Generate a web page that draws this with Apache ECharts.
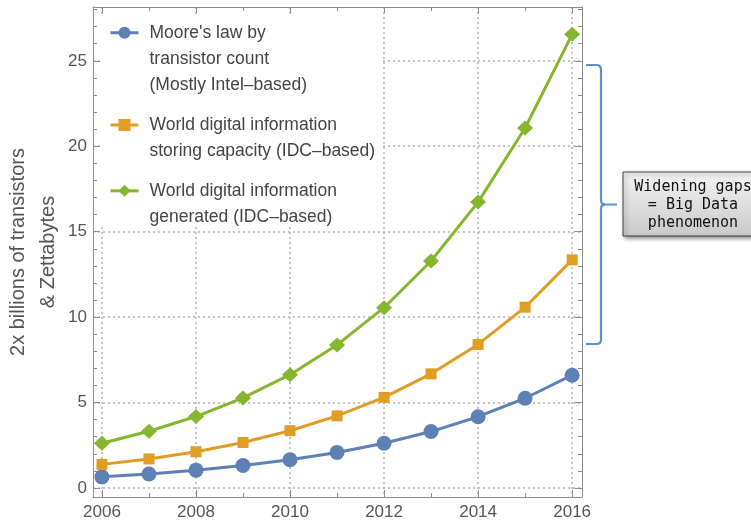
<!DOCTYPE html>
<html><head><meta charset="utf-8">
<script src="https://cdn.jsdelivr.net/npm/echarts@6/dist/echarts.min.js"></script>
<style>html,body{margin:0;padding:0;background:#fff}#c{width:751px;height:522px}</style>
</head><body><div id="c"></div>
<script>
const years = [2006, 2007, 2008, 2009, 2010, 2011, 2012, 2013, 2014, 2015, 2016];
const mooreValues = [0.65, 0.82, 1.04, 1.31, 1.65, 2.08, 2.62, 3.3, 4.17, 5.25, 6.6];
const storageValues = [1.38, 1.7, 2.12, 2.66, 3.35, 4.22, 5.3, 6.68, 8.4, 10.58, 13.35];
const generatedValues = [2.62, 3.32, 4.18, 5.27, 6.63, 8.37, 10.55, 13.28, 16.73, 21.07, 26.55];
const seriesNames = ["Moore's law", "Storing capacity", "Generated"];
const legendLabels = [
  "\n\nMoore's law by\ntransistor count\n(Mostly Intel\u2013based)",
  "\nWorld digital information\nstoring capacity (IDC\u2013based)",
  "\nWorld digital information\ngenerated (IDC\u2013based)"
];
const xMajorTicks = [2006, 2008, 2010, 2012, 2014, 2016];
const xMinorTicks = [2007, 2009, 2011, 2013, 2015];
const yMajorTicks = [0, 5, 10, 15, 20, 25];
const yMinorTicks = [0,1,2,3,4,5,6,7,8,9,10,11,12,13,14,15,16,17,18,19,20,21,22,23,24,25,26,27,28];
const yAxisTitle = "2x billions of transistors\n& Zettabytes";
const annotationText = "Widening gaps\n= Big Data\nphenomenon";

const FONT = "'Liberation Sans', Arial, Helvetica, sans-serif";
const FRAME = '#8c8c8c';
const colors = ['#5E81B5', '#E19C24', '#86B52E'];

function makeAxis(kind, pos, ticks, len, opts) {
  opts = opts || {};
  const ax = {
    type: 'value', position: pos, gridIndex: 0,
    min: kind === 'x' ? 2005.81 : -0.53,
    max: kind === 'x' ? 2016.21 : 28.15,
    axisLine: { show: !!opts.line, onZero: false, lineStyle: { color: FRAME, width: 1 } },
    axisTick: { show: true, inside: true, length: len, customValues: ticks, lineStyle: { color: FRAME, width: 1 } },
    axisLabel: opts.labels ? { customValues: opts.labels, fontSize: 17, color: '#555', margin: kind === 'x' ? 7 : 6, fontFamily: FONT,
                               formatter: function (v) { return String(v); } } : { show: false },
    splitLine: opts.split ? { show: true, lineStyle: { type: [2, 3], color: '#b3b3b3', width: 1.5 } } : { show: false },
    minorTick: { show: false }, minorSplitLine: { show: false }
  };
  if (opts.name) {
    ax.name = opts.name;
    ax.nameLocation = 'middle';
    ax.nameGap = 30;
    ax.nameMoveOverlap = false;
    ax.nameTextStyle = { fontSize: 20, color: '#555', lineHeight: 30, fontFamily: FONT };
  }
  return ax;
}

const chart = echarts.init(document.getElementById('c'), null, { renderer: 'canvas' });
const dataSets = [mooreValues, storageValues, generatedValues];
const symbols = ['circle', 'rect', 'diamond'];
const symbolSizes = [15, 11, [16, 15]];
const braceStyle = { fill: null, stroke: '#5B8FD0', lineWidth: 2.2 };

chart.setOption({
  animation: false,
  backgroundColor: '#fff',
  grid: { left: 93, top: 7, right: 169, bottom: 25, containLabel: false, outerBoundsMode: 'none' },
  xAxis: [
    makeAxis('x', 'bottom', xMajorTicks, 7, { line: true, labels: xMajorTicks, split: true }),
    makeAxis('x', 'bottom', xMinorTicks, 4, {}),
    makeAxis('x', 'top', xMajorTicks, 6, { line: true }),
    makeAxis('x', 'top', xMinorTicks, 4, {})
  ],
  yAxis: [
    makeAxis('y', 'left', yMajorTicks, 7, { line: true, labels: yMajorTicks, split: true, name: yAxisTitle }),
    makeAxis('y', 'left', yMinorTicks, 4, {}),
    makeAxis('y', 'right', yMajorTicks, 7, { line: true }),
    makeAxis('y', 'right', yMinorTicks, 4, {})
  ],
  legend: {
    orient: 'vertical', left: 109, top: -33, padding: 0, itemGap: -13,
    itemWidth: 28, itemHeight: 15, selectedMode: false,
    data: seriesNames,
    lineStyle: { width: 3 },
    formatter: function (name) { return legendLabels[seriesNames.indexOf(name)]; },
    textStyle: { fontSize: 17.5, color: '#444', lineHeight: 26.3, fontFamily: FONT, padding: [0, 0, 0, 6] }
  },
  graphic: [
    { type: 'rect', z: 1, silent: true, shape: { x: 100, y: 14, width: 281, height: 213 }, style: { fill: '#fff' } },
    { type: 'polyline', z: 5, silent: true,
      shape: { points: [[586, 65], [597, 65], [599.5, 65.8], [600.7, 67.5], [601, 69], [601, 200.5], [601.4, 202.5], [602.5, 203.8], [605, 204.5], [617, 204.5]] },
      style: braceStyle },
    { type: 'polyline', z: 5, silent: true,
      shape: { points: [[605, 204.5], [602.5, 205.2], [601.4, 206.5], [601, 208.5], [601, 340], [600.7, 341.5], [599.5, 343.2], [597, 344], [586, 344]] },
      style: braceStyle },
    { type: 'rect', z: 5, silent: true, shape: { x: 623, y: 172, width: 140, height: 64 },
      style: { fill: { type: 'linear', x: 0, y: 0, x2: 0, y2: 1, colorStops: [{ offset: 0, color: '#f4f4f4' }, { offset: 1, color: '#c9c9c9' }] },
               stroke: '#444', lineWidth: 1, shadowBlur: 4, shadowOffsetX: 2, shadowOffsetY: 2, shadowColor: 'rgba(0,0,0,0.45)' } },
    { type: 'text', z: 6, silent: true, x: 693, y: 205,
      style: { text: annotationText, fontSize: 15, lineHeight: 18, fontFamily: "'DejaVu Sans Mono', 'Liberation Mono', monospace", fill: '#111', align: 'center', verticalAlign: 'middle' } }
  ],
  series: seriesNames.map(function (name, i) {
    return {
      name: name, type: 'line', xAxisIndex: 0, yAxisIndex: 0,
      data: years.map(function (y, k) { return [y, dataSets[i][k]]; }),
      symbol: symbols[i], symbolSize: symbolSizes[i],
      lineStyle: { width: 3, color: colors[i] },
      itemStyle: { color: colors[i] },
      emphasis: { disabled: true },
      z: 3
    };
  })
});
</script>
</body></html>
